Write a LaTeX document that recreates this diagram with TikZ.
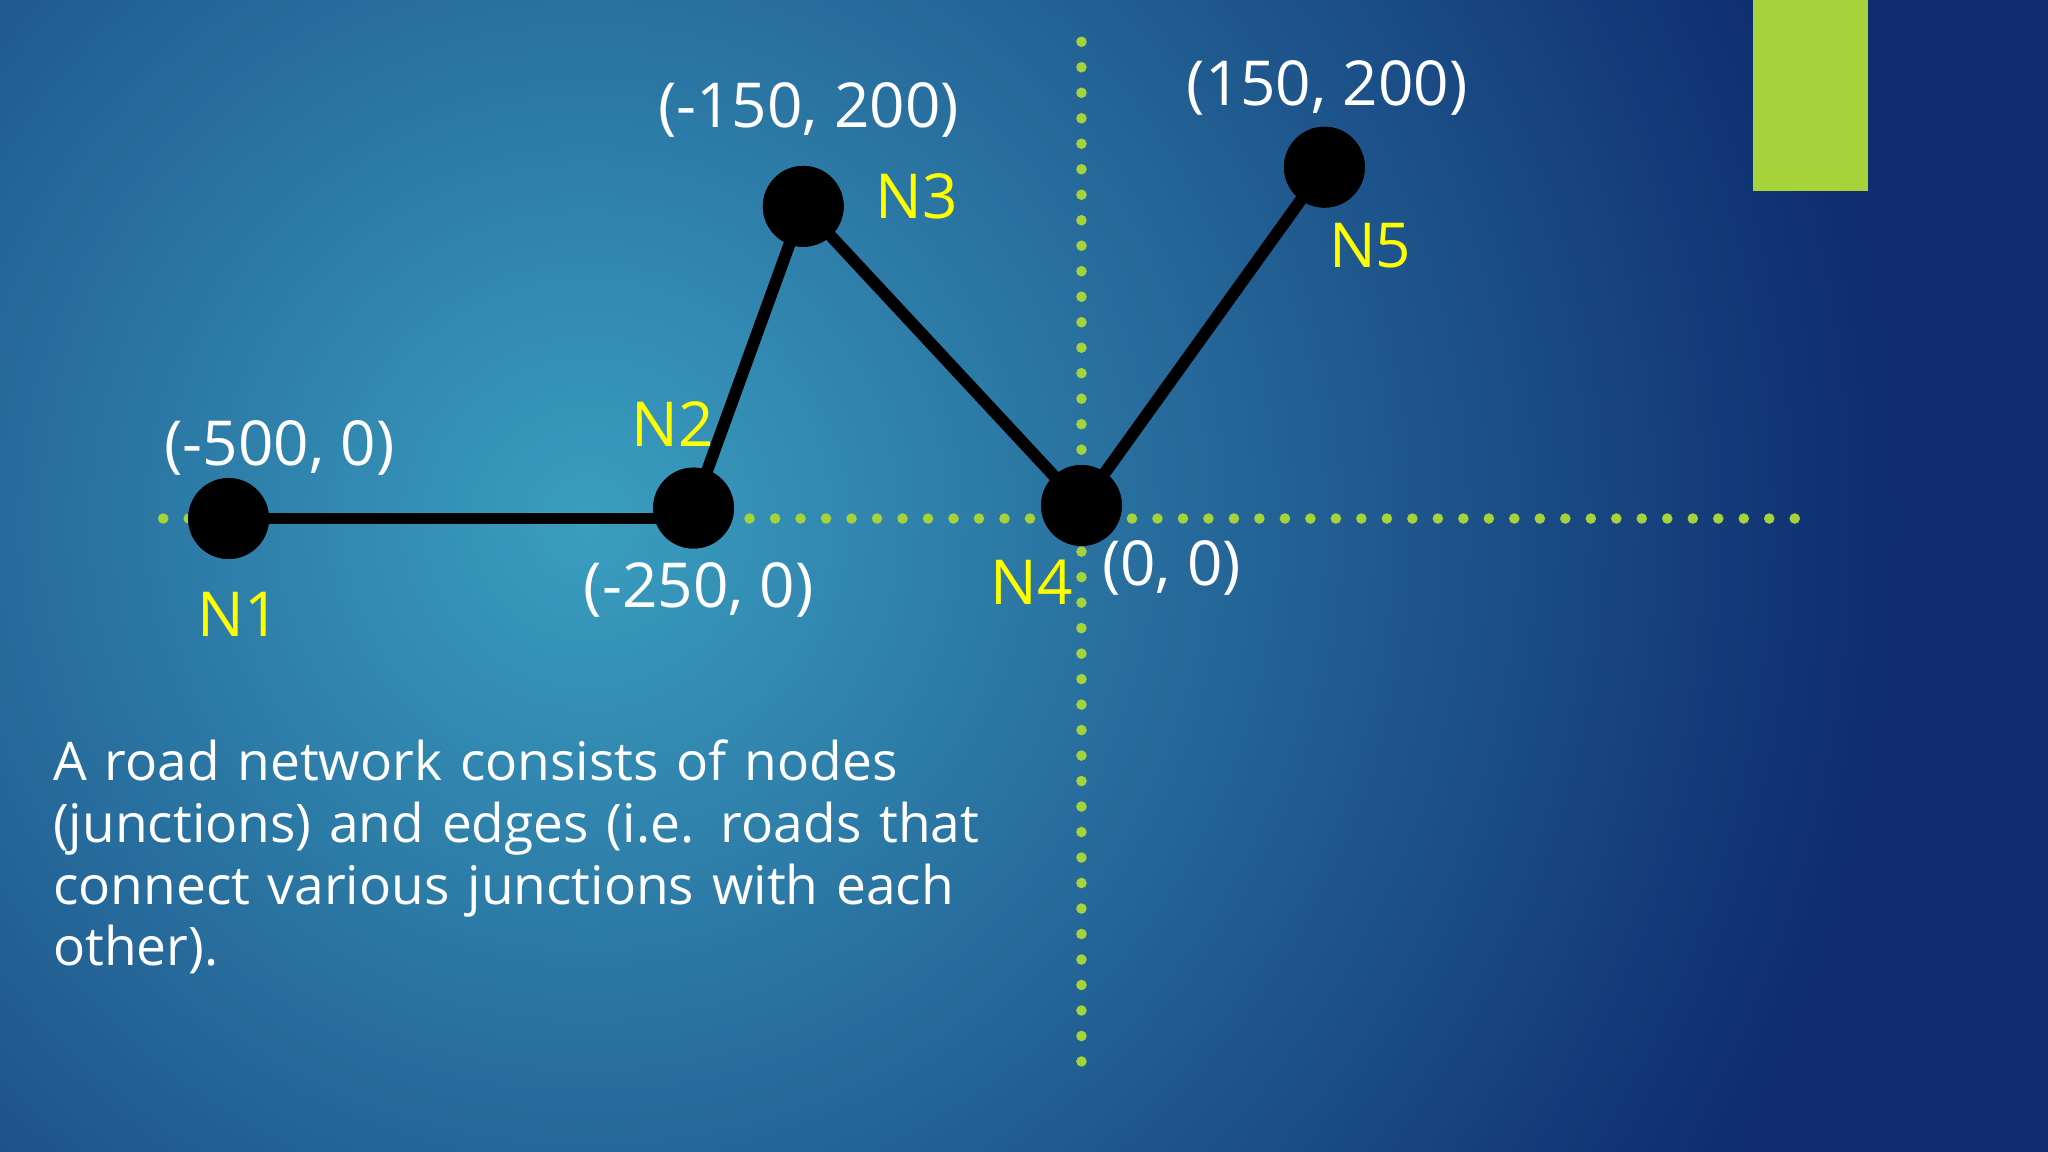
\documentclass[tikz,border=0pt]{standalone}
\usepackage{fontspec}
\setmainfont{Open Sans}
\definecolor{bgdark}{HTML}{0E2C6E}
\definecolor{bglight}{HTML}{3A9EC0}
\definecolor{dotgreen}{HTML}{A6D33A}
\definecolor{nlab}{HTML}{FFFF00}
\newcommand{\fullline}[1]{\makebox[212pt][s]{#1}}
\begin{document}
\begin{tikzpicture}[x=0.01cm,y=-0.01cm,
  junction/.style={circle,fill=black,minimum size=17.6pt,inner sep=0pt},
  coord/.style={text=white,font=\fontsize{13.5}{16}\selectfont,inner sep=0pt},
  nname/.style={text=nlab,font=\fontsize{13.5}{16}\selectfont,inner sep=0pt},
  road/.style={line width=2.6pt,black},
  axis/.style={dotgreen,line width=2.3pt,line cap=round,dash pattern=on 0pt off 5.55pt}]
\useasboundingbox (0,0) rectangle (1568,882);
\fill[bgdark] (0,0) rectangle (1568,882);
\begin{scope}
\clip (0,0) rectangle (1568,882);
\shade[inner color=bglight,outer color=bgdark] (450,400) circle (1000);
\end{scope}
\fill[dotgreen] (1342,0) rectangle (1430,146);
\coordinate (hl) at (125,397); \coordinate (hr) at (1375,397);
\coordinate (vt) at (828,32); \coordinate (vb) at (828,825);
\draw[axis] (hl) -- (hr);
\draw[axis] (vt) -- (vb);
\node[junction] (n1) at (175,397) {};
\node[junction] (n2) at (531,389) {};
\node[junction] (n3) at (615,158) {};
\node[junction] (n4) at (828,387) {};
\node[junction] (n5) at (1014,128) {};
\draw[road] (n1.center) -- (n2.center |- n1.center);
\draw[road] (n2.center) -- (n3.center) -- (n4.center) -- (n5.center);
\node[junction] at (n1) {}; \node[junction] at (n2) {}; \node[junction] at (n3) {};
\node[junction] at (n4) {}; \node[junction] at (n5) {};
\node[coord] (c1) at (214,343) {(-500, 0)};
\node[nname] (l1) at (183,470) {N1};
\node[coord] (c2) at (535,452) {(-250, 0)};
\node[nname] (l2) at (515,325) {N2};
\node[coord] (c3) at (619,84) {(-150, 200)};
\node[nname] (l3) at (702,150) {N3};
\node[nname] (l4) at (790,446) {N4};
\node[coord] (c4) at (897,435) {(0, 0)};
\node[coord] (c5) at (1016,67) {(150, 200)};
\node[nname] (l5) at (1049,188) {N5};
\node[text=white,anchor=north west,inner sep=0pt,text width=212pt,align=left,
  font=\fontsize{11.6}{13.4}\selectfont] (para) at (40,566)
  {\fullline{A road network consists of nodes}\\
   \fullline{(junctions) and edges (i.e. roads that}\\
   \fullline{connect various junctions with each}\\
   other).};
\end{tikzpicture}
\end{document}
